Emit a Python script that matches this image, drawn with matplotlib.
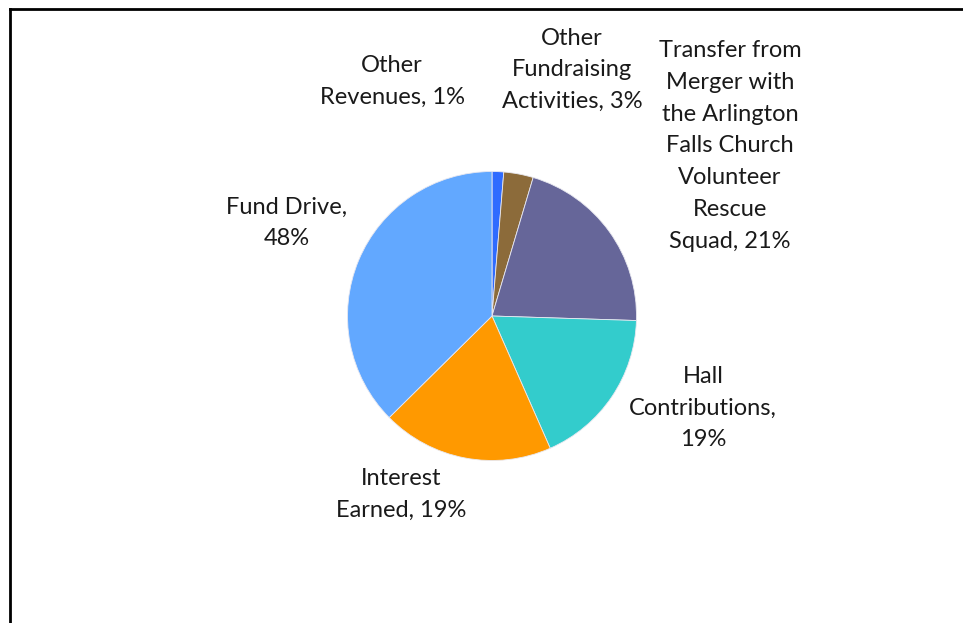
import matplotlib.pyplot as plt
from matplotlib.lines import Line2D

# Slice sizes; label text as printed on the chart
categories = ["Other Revenues", "Other Fundraising Activities",
              "Transfer from Merger with the Arlington Falls Church Volunteer Rescue Squad",
              "Hall Contributions", "Interest Earned", "Fund Drive"]
values = [1.3, 3.3, 20.9, 17.9, 19.2, 37.4]
labels = ["Other\nRevenues, 1%",
          "Other\nFundraising\nActivities, 3%",
          "Transfer from\nMerger with\nthe Arlington\nFalls Church\nVolunteer\nRescue\nSquad, 21%",
          "Hall\nContributions,\n19%",
          "Interest\nEarned, 19%",
          "Fund Drive,\n48%"]
colors = ["#2F6BFF", "#8C6B3A", "#666699", "#33CCCC", "#FF9900", "#62A8FF"]

W, H = 963, 623
fig = plt.figure(figsize=(W / 100, H / 100), dpi=100)
ax = fig.add_axes([0, 0, 1, 1])

ax.pie(values, colors=colors, startangle=90, counterclock=False,
       center=(492, H - 316), radius=144.5,
       wedgeprops=dict(linewidth=0.6, edgecolor="#E8E8F0"))

# label centres in pixel coordinates (from top-left)
label_pos = [(392, 81), (572, 70), (730, 146), (703, 408), (401, 494), (287, 223)]
for txt, (x, y) in zip(labels, label_pos):
    ax.text(x, H - y, txt, ha="center", va="center", fontsize=17,
            family="Lato", color="#1a1a1a", linespacing=1.63, multialignment="center")

ax.set_xlim(0, W)
ax.set_ylim(0, H)
ax.set_aspect("equal")
ax.axis("off")

# chart frame (top and left edges visible)
fig.add_artist(Line2D([10 / W, 1], [1 - 9 / H, 1 - 9 / H], transform=fig.transFigure,
                      color="black", linewidth=2))
fig.add_artist(Line2D([10 / W, 10 / W], [0, 1 - 9 / H], transform=fig.transFigure,
                      color="black", linewidth=2))

fig.savefig("out.png", dpi=100)
